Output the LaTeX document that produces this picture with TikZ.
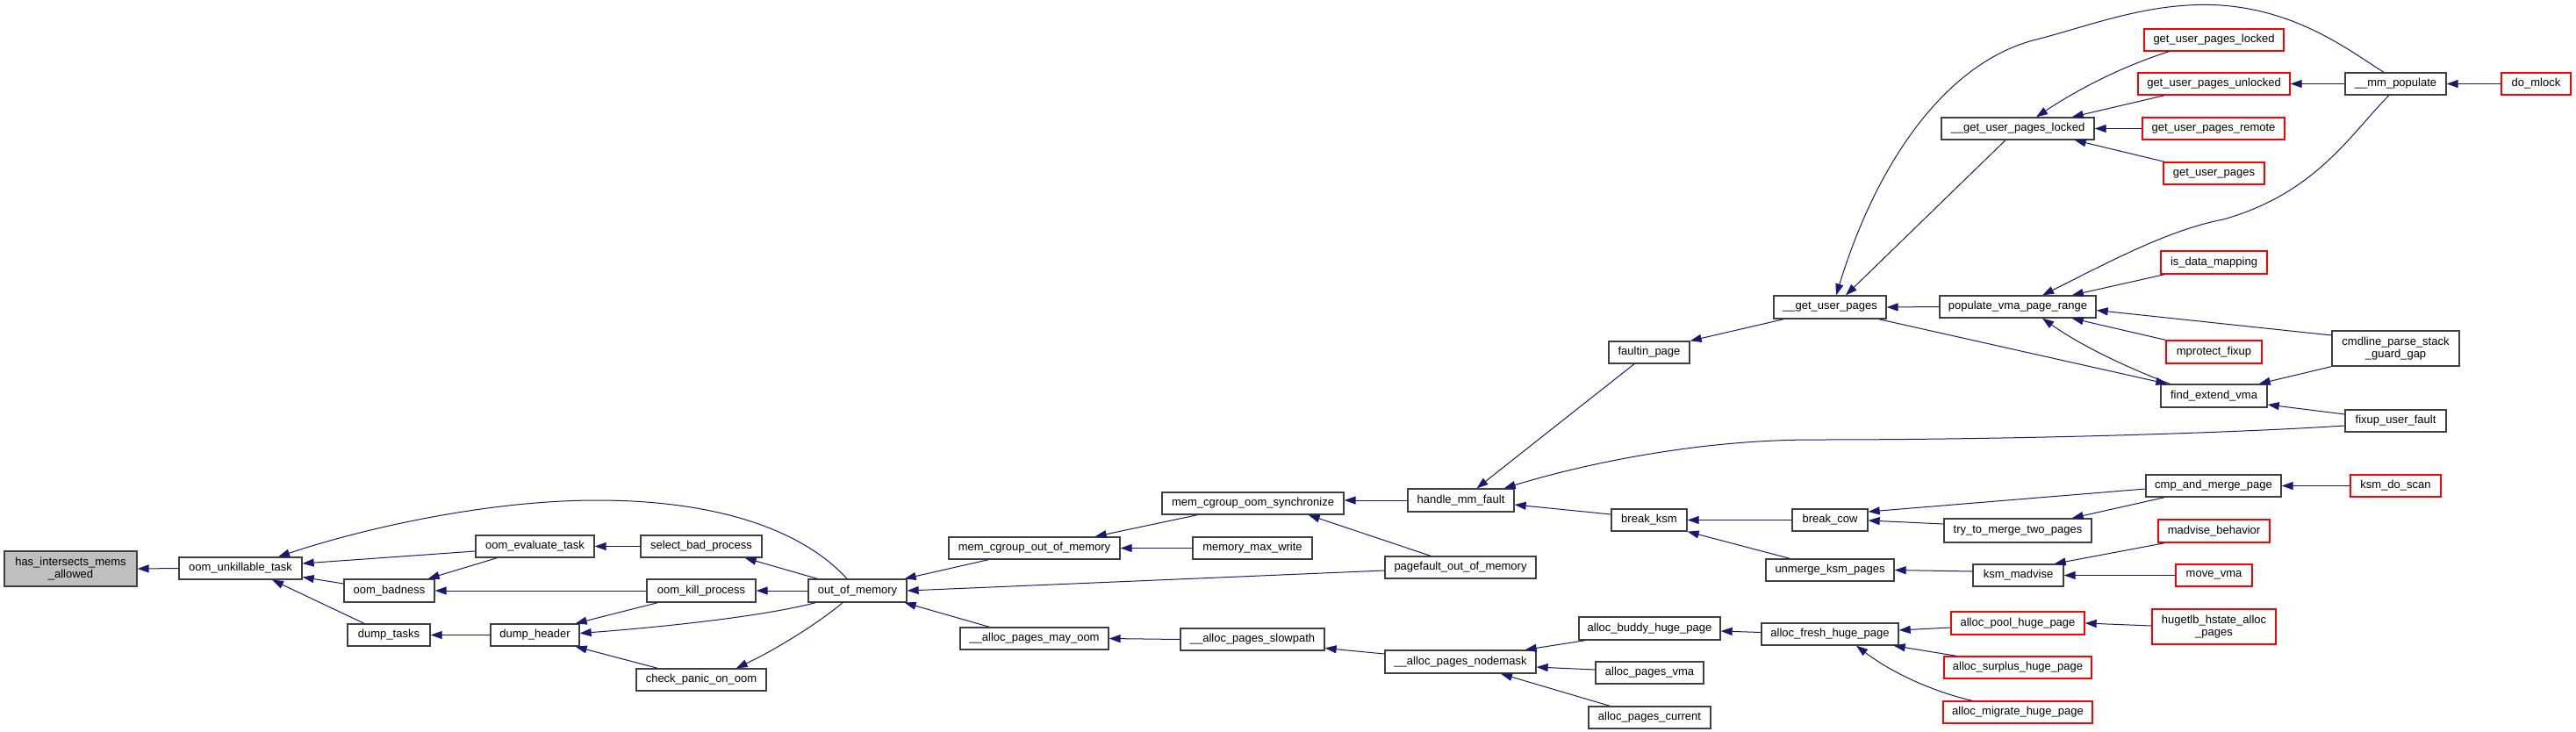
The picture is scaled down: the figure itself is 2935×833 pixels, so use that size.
\documentclass[tikz,border=0pt]{standalone}
\usepackage{fontspec}
\setmainfont{Liberation Sans}
\usetikzlibrary{arrows.meta,calc}
\definecolor{edgeblue}{HTML}{191970}
\definecolor{rootgray}{HTML}{BFBFBF}
\definecolor{boxline}{HTML}{404040}
\definecolor{redline}{HTML}{FF0000}
\newcommand{\fs}{\fontsize{13pt}{14pt}\selectfont}
\begin{document}
\begin{tikzpicture}[x=1pt,y=-1pt,
  box/.style={draw=boxline, line width=1.3pt, fill=white, inner sep=0pt, minimum height=25pt, font=\fs, align=center},
  rbox/.style={box, draw=redline},
  edge/.style={draw=edgeblue, line width=1pt, -{Triangle[length=13pt,width=9pt]}}]
\useasboundingbox (0,0) rectangle (2935,833);
\fill[white] (0,0) rectangle (2935,833);
% nodes
\node[box, minimum width=151pt, minimum height=40pt, fill=rootgray] (hima) at (80.5,648) {has\_intersects\_mems\\\_allowed};
\node[box, minimum width=140pt] (out) at (274,647.5) {oom\_unkillable\_task};
\node[box, minimum width=103pt, minimum height=26pt] (badn) at (443.5,673) {oom\_badness};
\node[box, minimum width=94pt] (dtasks) at (443,723.5) {dump\_tasks};
\node[box, minimum width=135pt] (evalt) at (609.5,622.5) {oom\_evaluate\_task};
\node[box, minimum width=101pt] (dheader) at (609.5,723.5) {dump\_header};
\node[box, minimum width=138pt] (selbp) at (799,622.5) {select\_bad\_process};
\node[box, minimum width=124pt, minimum height=26pt] (okp) at (799,673) {oom\_kill\_process};
\node[box, minimum width=148pt] (cpoom) at (799,774.5) {check\_panic\_on\_oom};
\node[box, minimum width=112pt, minimum height=26pt] (oom) at (977,673) {out\_of\_memory};
\node[box, minimum width=195pt] (mcoom) at (1178.5,624.5) {mem\_cgroup\_out\_of\_memory};
\node[box, minimum width=169pt] (apmo) at (1178.5,727.5) {\_\_alloc\_pages\_may\_oom};
\node[box, minimum width=207pt] (mcos) at (1427.5,573.5) {mem\_cgroup\_oom\_synchronize};
\node[box, minimum width=136pt] (mmw) at (1427,624.5) {memory\_max\_write};
\node[box, minimum width=164pt] (aps) at (1427,728.5) {\_\_alloc\_pages\_slowpath};
\node[box, minimum width=121pt, minimum height=26pt] (hmf) at (1664.5,570) {handle\_mm\_fault};
\node[box, minimum width=172pt] (pfoom) at (1664,646.5) {pagefault\_out\_of\_memory};
\node[box, minimum width=172pt, minimum height=26pt] (apn) at (1664,754) {\_\_alloc\_pages\_nodemask};
\node[box, minimum width=92pt] (faultin) at (1879,401.5) {faultin\_page};
\node[box, minimum width=86pt] (bksm) at (1879,592.5) {break\_ksm};
\node[box, minimum width=161pt, minimum height=26pt] (abhp) at (1879.5,716) {alloc\_buddy\_huge\_page};
\node[box, minimum width=123pt] (apvma) at (1879.5,766.5) {alloc\_pages\_vma};
\node[box, minimum width=139pt] (apcur) at (1879.5,817.5) {alloc\_pages\_current};
\node[box, minimum width=128pt, minimum height=26pt] (gup) at (2085,350) {\_\_get\_user\_pages};
\node[box, minimum width=86pt] (bcow) at (2085,592.5) {break\_cow};
\node[box, minimum width=146pt] (uksm) at (2085,649.5) {unmerge\_ksm\_pages};
\node[box, minimum width=156pt] (afhp) at (2085,722.5) {alloc\_fresh\_huge\_page};
\node[box, minimum width=174pt] (gupl) at (2299,146.5) {\_\_get\_user\_pages\_locked};
\node[box, minimum width=178pt] (pvpr) at (2299,349.5) {populate\_vma\_page\_range};
\node[box, minimum width=168pt, minimum height=27pt] (ttm) at (2299,604.5) {try\_to\_merge\_two\_pages};
\node[box, minimum width=103pt] (ksmm) at (2299.5,655.5) {ksm\_madvise};
\node[rbox, minimum width=152pt, minimum height=26pt] (aphp) at (2299,710) {alloc\_pool\_huge\_page};
\node[rbox, minimum width=168pt] (ashp) at (2299,760.5) {alloc\_surplus\_huge\_page};
\node[rbox, minimum width=170pt] (amhp) at (2299,811.5) {alloc\_migrate\_huge\_page};
\node[rbox, minimum width=159pt] (guplk) at (2522.5,45.5) {get\_user\_pages\_locked};
\node[rbox, minimum width=173pt] (gupu) at (2522.5,95.5) {get\_user\_pages\_unlocked};
\node[rbox, minimum width=162pt] (gupr) at (2522,146.5) {get\_user\_pages\_remote};
\node[rbox, minimum width=115pt] (gupp) at (2522.5,197.5) {get\_user\_pages};
\node[rbox, minimum width=121pt, minimum height=26pt] (idm) at (2522.5,299) {is\_data\_mapping};
\node[rbox, minimum width=109pt, minimum height=26pt] (mpf) at (2522.5,401) {mprotect\_fixup};
\node[box, minimum width=121pt, minimum height=26pt] (fev) at (2522.5,451) {find\_extend\_vma};
\node[box, minimum width=154pt] (camp) at (2522,553.5) {cmp\_and\_merge\_page};
\node[rbox, minimum width=127pt, minimum height=26pt] (madb) at (2522.5,605) {madvise\_behavior};
\node[rbox, minimum width=87pt] (mvma) at (2522.5,655.5) {move\_vma};
\node[rbox, minimum width=141pt, minimum height=40pt] (hhap) at (2522.5,714) {hugetlb\_hstate\_alloc\\\_pages};
\node[box, minimum width=115pt] (mmp) at (2729.5,95.5) {\_\_mm\_populate};
\node[box, minimum width=145pt, minimum height=40pt] (cpsgg) at (2729.5,397) {cmdline\_parse\_stack\\\_guard\_gap};
\node[box, minimum width=115pt] (fuf) at (2729.5,479.5) {fixup\_user\_fault};
\node[rbox, minimum width=103pt] (kds) at (2729.5,553.5) {ksm\_do\_scan};
\node[rbox, minimum width=79pt] (dml) at (2889.5,95.5) {do\_mlock};
% edges (arrow at callee)
\draw[edge] (out.west) -- (hima.east);
\draw[edge] ($(evalt.west)+(0,5.5)$) -- ($(out.east)+(0,-5.5)$);
\draw[edge] ($(badn.west)+(0,-8)$) -- ($(out.east)+(0,10)$);
\draw[edge] ($(dtasks.north)+(-28,0)$) -- ($(out.south)+(36,0)$);
\draw[edge] ($(oom.north)+(-12,0)$) .. controls (920,610) and (830,570) .. (680,570) .. controls (560,570) and (420,600) .. ($(out.north)+(43,0)$);
\draw[edge] ($(evalt.south west)+(25,0)$) -- ($(badn.north east)+(-8,0)$);
\draw[edge] (okp.west) -- (badn.east);
\draw[edge] (selbp.west) -- (evalt.east);
\draw[edge] (dheader.west) -- (dtasks.east);
\draw[edge] ($(okp.south west)+(13,0)$) -- ($(dheader.north east)+(-5,0)$);
\draw[edge] ($(oom.south west)+(9,0)$) .. controls (870,702) and (760,714) .. ($(dheader.east)+(0,-2)$);
\draw[edge] ($(cpoom.north west)+(25,0)$) -- ($(dheader.south east)+(-5,0)$);
\draw[edge] ($(oom.north west)+(11,0)$) -- ($(selbp.south east)+(-20,0)$);
\draw[edge] (oom.west) -- (okp.east);
\draw[edge] ($(oom.south)+(-17,0)$) .. controls (930,712) and (880,742) .. ($(cpoom.north east)+(-35,0)$);
\draw[edge] ($(mcoom.south west)+(46,0)$) -- ($(oom.north east)+(-3,0)$);
\draw[edge] ($(pfoom.west)+(0,3.5)$) -- (oom.east);
\draw[edge] ($(apmo.north west)+(34,0)$) -- ($(oom.south east)+(-3,0)$);
\draw[edge] ($(mcos.south west)+(41,0)$) -- ($(mcoom.north east)+(-29,0)$);
\draw[edge] (mmw.west) -- (mcoom.east);
\draw[edge] (aps.west) -- (apmo.east);
\draw[edge] (hmf.west) -- ($(mcos.east)+(0,-3.5)$);
\draw[edge] ($(pfoom.north)+(-34,0)$) -- ($(mcos.south east)+(-41,0)$);
\draw[edge] ($(apn.west)+(0,-9)$) -- ($(aps.east)+(0,10)$);
\draw[edge] ($(faultin.south)+(-17,0)$) -- ($(hmf.north)+(18,0)$);
\draw[edge] ($(fuf.west)+(0,5.5)$) .. controls (2550,493) and (2300,501) .. (2067,501) .. controls (1930,501) and (1800,530) .. ($(hmf.north east)+(-12,0)$);
\draw[edge] ($(bksm.west)+(0,-6.5)$) -- ($(hmf.east)+(0,5)$);
\draw[edge] ($(gup.south west)+(12,0)$) -- ($(faultin.north east)+(0,0)$);
\draw[edge] ($(abhp.south west)+(8,0)$) -- ($(apn.north east)+(-13,0)$);
\draw[edge] ($(apvma.west)+(0,-3.5)$) -- ($(apn.east)+(0,6)$);
\draw[edge] ($(apcur.north west)+(25,0)$) -- ($(apn.south)+(46,0)$);
\draw[edge] (bcow.west) -- (bksm.east);
\draw[edge] ($(uksm.north west)+(28,0)$) -- (bksm.south east);
\draw[edge] ($(afhp.west)+(0,-2)$) -- ($(abhp.east)+(0,3)$);
\draw[edge] ($(mmp.north)+(-13.5,0)$) .. controls (2680,60) and (2620,12) .. (2530,6) .. controls (2450,1) and (2380,30) .. (2320,45) .. controls (2220,70) and (2140,180) .. ($(gup.north)+(7,0)$);
\draw[edge] ($(gupl.south)+(-14,0)$) -- ($(gup.north)+(18,0)$);
\draw[edge] (pvpr.west) -- (gup.east);
\draw[edge] ($(gup.south east)+(-9,0)$) -- ($(fev.north west)+(8,0)$);
\draw[edge] ($(fev.north west)+(11,0)$) .. controls (2440,425) and (2380,400) .. ($(pvpr.south)+(28,0)$);
\draw[edge] ($(guplk.south west)+(29,0)$) .. controls (2420,75) and (2370,100) .. ($(gupl.north)+(21,0)$);
\draw[edge] ($(gupu.south west)+(31,0)$) -- ($(gupl.north east)+(-26,0)$);
\draw[edge] (gupr.west) -- (gupl.east);
\draw[edge] ($(gupp.north west)+(2,0)$) -- ($(gupl.south east)+(-23,0)$);
\draw[edge] ($(mmp.south)+(-7.5,0)$) .. controls (2680,150) and (2640,220) .. (2533,250) .. controls (2470,262) and (2400,300) .. ($(pvpr.north)+(28,0)$);
\draw[edge] ($(idm.south west)+(5,0)$) -- ($(pvpr.north east)+(-28,0)$);
\draw[edge] ($(cpsgg.west)+(0,-15)$) -- ($(pvpr.east)+(0,4)$);
\draw[edge] (mpf.north west) -- ($(pvpr.south east)+(-28,0)$);
\draw[edge] (mmp.west) -- (gupu.east);
\draw[edge] (dml.west) -- (mmp.east);
\draw[edge] (cpsgg.south west) -- ($(fev.north east)+(-10,0)$);
\draw[edge] ($(fuf.west)+(0,-7.5)$) -- ($(fev.east)+(0,10)$);
\draw[edge] ($(camp.west)+(0,3.5)$) -- ($(bcow.east)+(0,-9.5)$);
\draw[edge] ($(ttm.west)+(0,-7.5)$) -- ($(bcow.east)+(0,0.5)$);
\draw[edge] ($(camp.south west)+(22,0)$) -- ($(ttm.north east)+(-23,0)$);
\draw[edge] ($(ksmm.west)+(0,-4.5)$) -- (uksm.east);
\draw[edge] ($(madb.south west)+(8,0)$) -- ($(ksmm.north east)+(-11,0)$);
\draw[edge] (mvma.west) -- (ksmm.east);
\draw[edge] (kds.west) -- (camp.east);
\draw[edge] ($(aphp.west)+(0,5)$) -- ($(afhp.east)+(0,-4.5)$);
\draw[edge] ($(ashp.north west)+(15,0)$) -- ($(afhp.south east)+(-6,0)$);
\draw[edge] ($(amhp.north west)+(34,0)$) .. controls (2210,790) and (2160,770) .. ($(afhp.south)+(30,0)$);
\draw[edge] ($(hhap.west)+(0,-1)$) -- (aphp.east);
\end{tikzpicture}
\end{document}
